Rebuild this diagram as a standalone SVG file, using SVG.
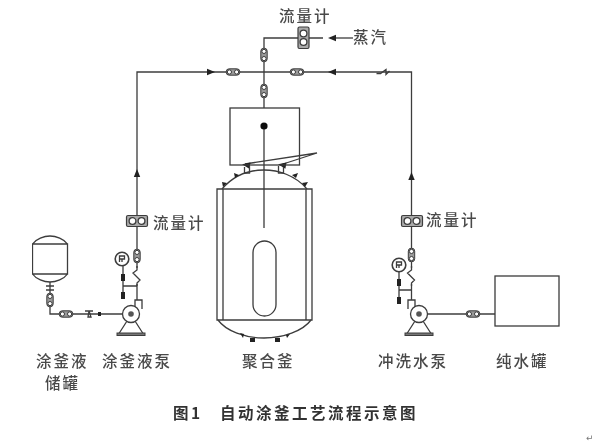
<svg xmlns="http://www.w3.org/2000/svg" width="595" height="442" viewBox="0 0 595 442">
<style>
.l{fill:none;stroke:#3c3c3c;stroke-width:1.3}
.w{fill:#fff;stroke:#3c3c3c;stroke-width:1.3}
.t{font-family:"Noto Sans CJK SC","Liberation Serif",serif;font-size:15.500px;font-weight:500;fill:#4a4a4a;letter-spacing:2px}
.b{font-family:"Noto Sans CJK SC","Liberation Sans",sans-serif;font-size:15.500px;font-weight:700;fill:#333;letter-spacing:2.500px}
.a{fill:#222}
</style>
<defs>
<filter id="soft" x="0" y="0" width="100%" height="100%"><feGaussianBlur stdDeviation="0.4"/></filter>
<g id="valve"><rect x="-6.800" y="-3.200" width="13.600" height="6.400" rx="3" fill="#999" stroke="#3c3c3c" stroke-width="1"/><circle cx="-3.600" cy="0" r="2.100" fill="#fff" stroke="#3c3c3c" stroke-width="1"/><circle cx="3.600" cy="0" r="2.100" fill="#fff" stroke="#3c3c3c" stroke-width="1"/></g>
<g id="meter"><rect x="-10.500" y="-5.500" width="21" height="11" rx="1.500" fill="#aaa" stroke="#3c3c3c" stroke-width="1.200"/><circle cx="-4.500" cy="0" r="3.400" class="w"/><circle cx="4.500" cy="0" r="3.400" class="w"/></g>
<g id="arrow"><path d="M-4-3.200 4 0-4 3.200z" class="a"/></g>
<g id="check"><path d="M-6.500 1.500h4l5.500-4v5l3.500-3.500" class="l"/></g>
<g id="gauge"><circle r="6.800" fill="#fff" stroke="#3c3c3c" stroke-width="1.600"/><path d="M-2.500 3V-3H2.500V0H-2.500M0 0V3" class="l" stroke-width="1"/></g>
<g id="pump"><path d="M-11 -5V-14H-4V-5" class="w"/><path d="M-4 7-12 19.500M4 7 12 19.500" class="l"/><rect x="-14" y="19" width="28" height="2.500" fill="#777" stroke="#3c3c3c"/><circle r="8.500" class="w"/><circle r="2.800" fill="#555"/></g>
</defs>

<g filter="url(#soft)">
<g id="connectors">
<path class="l" d="M137 300V72H411.500V300"/>
<path class="l" d="M264 108V38H323"/>
<path class="l" d="M336 38H353"/>
<path class="l" d="M50 282V314H122"/>
<path class="l" d="M428 314H495"/>
<path class="l" d="M123 266V298M123 286H137"/>
<path class="l" d="M399 272V303M399 290H412"/>
<path class="l" d="M264 126V228"/>
<path class="l" d="M245 164 317 153 280 165"/>
<use href="#arrow" transform="translate(211 72)"/>
<use href="#arrow" transform="translate(332 72) rotate(180)"/>
<use href="#arrow" transform="translate(332 38) rotate(180)"/>
<use href="#arrow" transform="translate(411.500 176) rotate(-90)"/>
<use href="#arrow" transform="translate(137 173) rotate(-90)"/>
<use href="#arrow" transform="translate(246 165) rotate(190)"/>
<use href="#arrow" transform="translate(282 165) rotate(190)"/>
<use href="#valve" transform="translate(233 72)"/>
<use href="#valve" transform="translate(297 72)"/>
<use href="#valve" transform="translate(264 55) rotate(90)"/>
<use href="#valve" transform="translate(264 91) rotate(90)"/>
<use href="#check" transform="translate(383 72)"/>
<use href="#valve" transform="translate(137 256) rotate(90)"/>
<use href="#valve" transform="translate(411.500 255) rotate(90)"/>
<use href="#valve" transform="translate(50 300) rotate(90)"/>
<use href="#valve" transform="translate(66 314)"/>
<use href="#valve" transform="translate(473 314)"/>
<rect x="133" y="268" width="8" height="16" fill="#fff"/>
<rect x="407.500" y="268" width="8" height="16" fill="#fff"/>
<path class="l" d="M137 266V270L133 273 140 280 137 283V286M411.500 266V270L407.500 273 414.500 280 411.500 283V286"/>
<path d="M85 311h8M89 311l-1 6h3z" class="l"/>
<rect x="98" y="312" width="3" height="4" class="a"/>
<rect x="121" y="274" width="4" height="7" class="a"/><rect x="121" y="292" width="4" height="7" class="a"/>
<rect x="397" y="279" width="4" height="7" class="a"/><rect x="397" y="297" width="4" height="7" class="a"/>
<path class="l" d="M46 286h8M46 290h8"/>
</g>

<g id="meter-top"><rect x="298" y="27" width="11" height="21.500" rx="1.500" fill="#aaa" stroke="#3c3c3c" stroke-width="1.200"/><circle cx="303.500" cy="33.500" r="3.400" class="w"/><circle cx="303.500" cy="42" r="3.400" class="w"/></g>
<g id="meter-left"><use href="#meter" transform="translate(137 221)"/></g>
<g id="meter-right"><use href="#meter" transform="translate(412 221)"/></g>
<g id="gauge-left"><use href="#gauge" transform="translate(122 259)"/></g>
<g id="gauge-right"><use href="#gauge" transform="translate(399 265)"/></g>
<g id="pump-left"><use href="#pump" transform="translate(131 314) scale(-1 1)"/></g>
<g id="pump-right"><use href="#pump" transform="translate(419 314)"/></g>

<g id="coating-tank"><path class="l" d="M32.500 244H67.500V274H32.500ZM32.500 244C36 239 44 236 50 236S64 239 67.500 244M32.500 274C36 279 44 282 50 282S64 279 67.500 274"/></g>
<g id="water-tank"><rect x="495" y="276" width="64" height="50" class="l"/></g>

<g id="reactor">
<rect x="230" y="108" width="69.500" height="57" class="l"/>
<circle cx="264" cy="126" r="3.600" fill="#111"/>
<path class="l" d="M217 189H312V320H217ZM223 189V320M306 189V320"/>
<path class="l" d="M222 189C234 175 250 170 264 170S295 175 307 189"/>
<path class="l" d="M218 320C226 331 245 338 264 338S303 331 311 320"/>
<rect x="253" y="241" width="23" height="75" rx="11.500" class="l"/>
<path class="l" d="M244.500 167v6h5v-7M278.500 166v7h5v-6"/>
<path class="a" d="M234 173l5 2-4 3zM222 182l5 1-4 4zM292 175l6-2-2 5zM302 183l6-1-3 5z"/>
<path class="a" d="M240 333l4 1-1 4zM290 334l-4 1 1 3zM250 338h5v4h-5zM275 338h5v4h-5z"/>
</g>

<g id="labels">
<text class="t" x="279" y="22">流量计</text>
<text class="t" x="353" y="43">蒸汽</text>
<text class="t" x="153" y="229">流量计</text>
<text class="t" x="426" y="226">流量计</text>
<text class="t" x="36" y="367">涂釜液</text>
<text class="t" x="45" y="389">储罐</text>
<text class="t" x="102" y="367">涂釜液泵</text>
<text class="t" x="242" y="367">聚合釜</text>
<text class="t" x="378" y="367">冲洗水泵</text>
<text class="t" x="496" y="367">纯水罐</text>
<text class="b" x="173" y="419">图1</text>
<text class="b" x="220" y="419">自动涂釜工艺流程示意图</text>
<text x="586" y="441" font-family="DejaVu Sans,sans-serif" font-size="9" fill="#777">↵</text>
</g>
</g>
</svg>
